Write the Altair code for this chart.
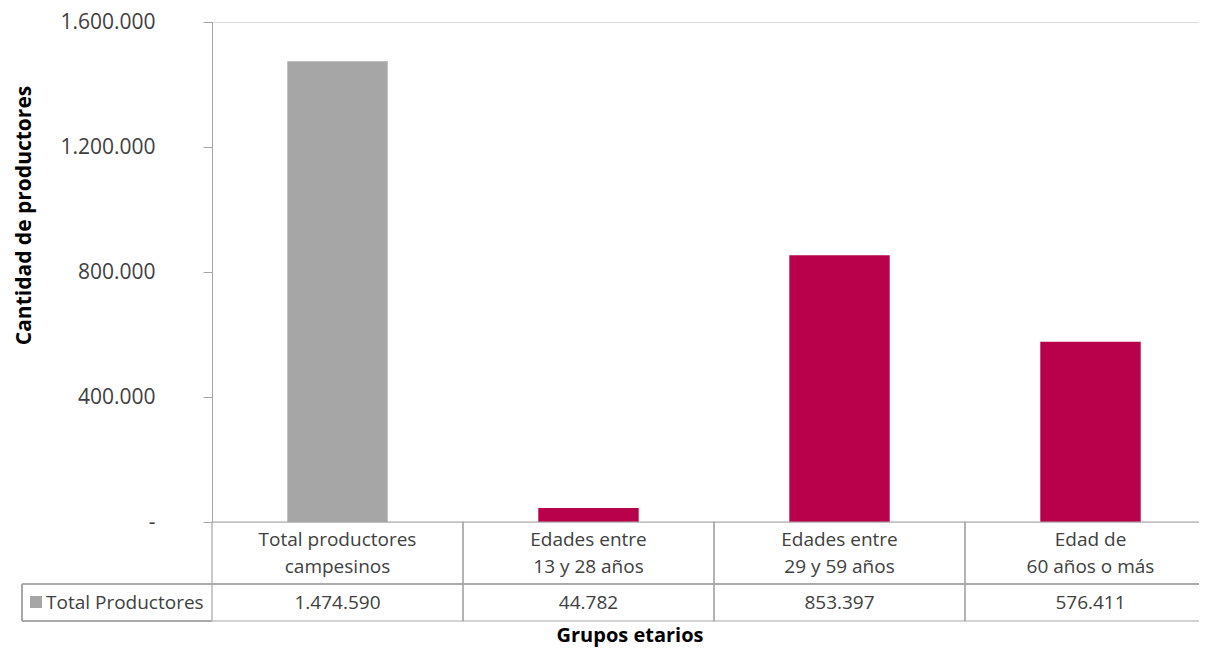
import altair as alt
import pandas as pd

categories = ["Total productores campesinos", "Edades entre 13 y 28 años",
              "Edades entre 29 y 59 años", "Edad de 60 años o más"]
category_labels = ["Total productores\ncampesinos", "Edades entre\n13 y 28 años",
                   "Edades entre\n29 y 59 años", "Edad de\n60 años o más"]
values = [1474590, 44782, 853397, 576411]
series = ["total", "grupo", "grupo", "grupo"]
y_ticks = [0, 400000, 800000, 1200000, 1600000]
legend_label = "Total Productores"
x_title = "Grupos etarios"
y_title = "Cantidad de productores"

FONT = "Open Sans"
GRID = "#A6A6A6"
TXT = "#404040"

df = pd.DataFrame({
    "cat": categories,
    "label": category_labels,
    "value": values,
    "value_label": [f"{v:,}".replace(",", ".") for v in values],
    "serie": series,
})

bar_scale = alt.Scale(domain=categories, range=[0, 1004], paddingInner=0.6, paddingOuter=0.3)
cell_scale = alt.Scale(domain=categories, range=[0, 1004], paddingInner=0, paddingOuter=0)

base = alt.Chart(df)

bars = base.mark_bar().encode(
    x=alt.X("cat:N", sort=categories, scale=bar_scale, axis=None),
    y=alt.Y("value:Q", scale=alt.Scale(domain=[0, 1600000], nice=False),
            axis=alt.Axis(values=y_ticks, grid=False, title=y_title,
                          labelExpr="datum.value == 0 ? '-' : replace(format(datum.value, ','), regexp(',', 'g'), '.')",
                          labelFont=FONT, labelFontSize=21, labelColor=TXT, labelPadding=48,
                          tickSize=9, tickColor=GRID, domainColor=GRID,
                          titleFont=FONT, titleFontSize=21, titleFontWeight="bold", titleColor="#000000",
                          titleX=-188, titleY=193, titleAlign="center", titleBaseline="middle",
                          titleAngle=270)),
    color=alt.Color("serie:N", scale=alt.Scale(domain=["total", "grupo"], range=["#A6A6A6", "#B8004B"]),
                    legend=None),
)

cells = base.mark_rect(fill="transparent", stroke=GRID, strokeWidth=1.2).encode(
    x=alt.X("cat:N", sort=categories, scale=cell_scale, axis=None),
    y=alt.value(500), y2=alt.value(599),
)

row_line = base.mark_rule(color=GRID, strokeWidth=1.2).encode(
    x=alt.value(-190), x2=alt.value(1004), y=alt.value(562)
)

legend_cell = base.mark_rule(color=GRID, strokeWidth=1.2).encode(
    x=alt.value(-190), y=alt.value(562), y2=alt.value(599)
)
legend_bottom = base.mark_rule(color=GRID, strokeWidth=1.2).encode(
    x=alt.value(-190), x2=alt.value(0), y=alt.value(599)
)

legend_sq = alt.Chart(pd.DataFrame({"s": [legend_label]})).mark_rect(color="#A6A6A6").encode(
    x=alt.value(-182), x2=alt.value(-170), y=alt.value(574), y2=alt.value(586)
)
legend_txt = alt.Chart(pd.DataFrame({"s": [legend_label]})).mark_text(
    font=FONT, fontSize=19, color=TXT, align="left", baseline="middle"
).encode(x=alt.value(-166), y=alt.value(581), text="s:N")

cat_text = base.mark_text(font=FONT, fontSize=19, color=TXT, align="center", baseline="middle",
                          lineBreak="\n", lineHeight=27).encode(
    x=alt.X("cat:N", sort=categories, scale=bar_scale, axis=None),
    y=alt.value(518), text="label:N",
)

val_text = base.mark_text(font=FONT, fontSize=19, color=TXT, align="center", baseline="middle").encode(
    x=alt.X("cat:N", sort=categories, scale=bar_scale, axis=None),
    y=alt.value(581), text="value_label:N",
)

xtitle = alt.Chart(pd.DataFrame({"t": [x_title]})).mark_text(
    font=FONT, fontSize=20, fontWeight="bold", color="#000000", align="center", baseline="middle"
).encode(x=alt.value(418), y=alt.value(614), text="t:N")

chart = alt.layer(
    bars, cells, row_line, legend_cell, legend_bottom, legend_sq, legend_txt, cat_text, val_text, xtitle
).resolve_scale(x="independent").properties(
    width=987, height=500,
    autosize=alt.AutoSizeParams(type="none"),
    padding={"left": 204, "top": 14, "right": 0, "bottom": 125},
).configure_view(stroke=None).configure(background="white")

chart.save("out.html", embed_options={"renderer": "svg", "actions": False})
